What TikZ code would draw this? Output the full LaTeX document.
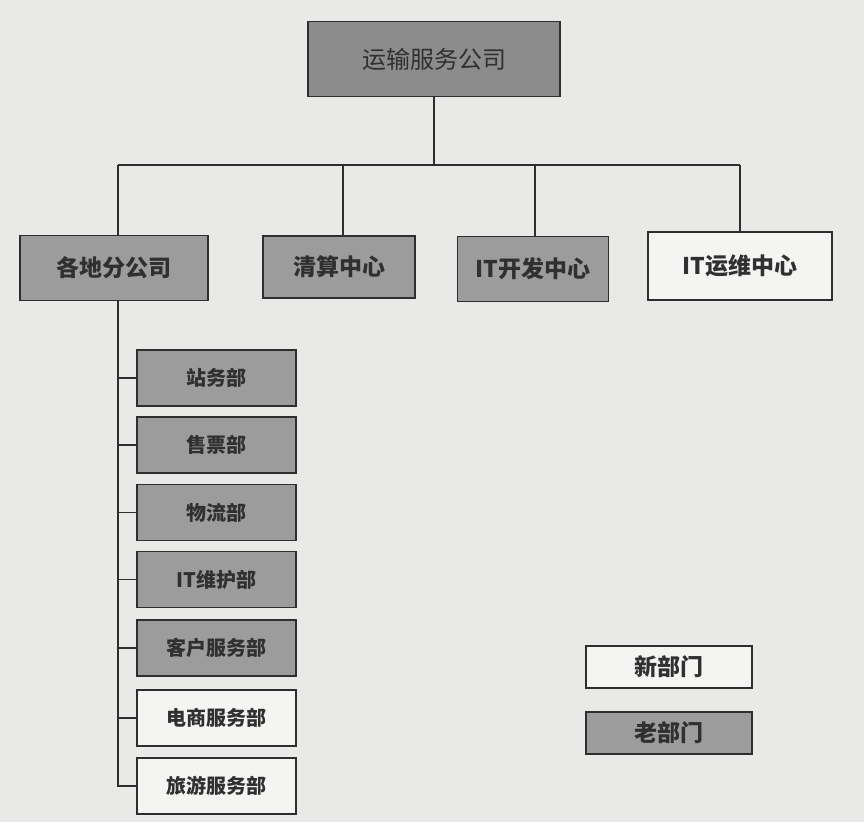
\documentclass[tikz,border=0pt]{standalone}
\usepackage{fontspec}
\setmainfont{Noto Sans CJK SC}
\definecolor{bgc}{HTML}{E9E9E7}
\definecolor{oldc}{HTML}{9C9C9C}
\definecolor{topc}{HTML}{8C8C8C}
\definecolor{newc}{HTML}{F4F4F2}
\definecolor{linec}{HTML}{2E2E2E}
\definecolor{txtc}{HTML}{303030}
\tikzset{
  unit/.style={draw=linec, line width=1.8pt, inner sep=0pt, text=txtc, anchor=center},
  oldunit/.style={unit, fill=oldc},
  topunit/.style={unit, fill=topc},
  newunit/.style={unit, fill=newc},
  toptext/.style={font=\fontsize{24}{28}\selectfont},
  bigtext/.style={font=\fontsize{23}{27}\selectfont\bfseries},
  midtext/.style={font=\fontsize{23}{27}\selectfont\bfseries},
  smalltext/.style={font=\fontsize{20}{24}\selectfont\bfseries},
  conn/.style={draw=linec, line width=1.8pt},
}
\begin{document}
\begin{tikzpicture}[x=1pt,y=-1pt]
\fill[bgc] (0,0) rectangle (864,822);
\useasboundingbox (0,0) rectangle (864,822);

% top
\node[topunit, toptext, minimum width=252pt, minimum height=75pt] (top) at (434,59) {运输服务公司};

% level 2
\node[oldunit, bigtext, minimum width=188pt, minimum height=65pt] (fen) at (114,268) {各地分公司};
\node[oldunit, bigtext, minimum width=152pt, minimum height=62pt] (qs) at (339,267) {清算中心};
\node[oldunit, bigtext, minimum width=151pt, minimum height=65pt] (kf) at (533,269) {IT开发中心};
\node[newunit, bigtext, minimum width=184pt, minimum height=68pt] (yw) at (740,266) {IT运维中心};

% bus
\coordinate (bus) at (434,165);
\coordinate (busL) at (118,165);
\coordinate (busQ) at (343,165);
\coordinate (busK) at (535,165);
\coordinate (busR) at (740,165);
\draw[conn] (top.south) -- (bus);
\draw[conn] (busL) -- (busR);
\draw[conn] (busL) -- (busL |- fen.north);
\draw[conn] (busQ) -- (busQ |- qs.north);
\draw[conn] (busK) -- (busK |- kf.north);
\draw[conn] (busR) -- (busR |- yw.north);

% level 3
\def\sw{159pt}
\def\sh{56pt}
\node[oldunit, smalltext, minimum width=\sw, minimum height=\sh] (d1) at (216.5,378) {站务部};
\node[oldunit, smalltext, minimum width=\sw, minimum height=\sh] (d2) at (216.5,445) {售票部};
\node[oldunit, smalltext, minimum width=\sw, minimum height=\sh] (d3) at (216.5,512.5) {物流部};
\node[oldunit, smalltext, minimum width=\sw, minimum height=\sh] (d4) at (216.5,579.5) {IT维护部};
\node[oldunit, smalltext, minimum width=\sw, minimum height=\sh] (d5) at (216.5,648) {客户服务部};
\node[newunit, smalltext, minimum width=\sw, minimum height=\sh] (d6) at (216.5,718) {电商服务部};
\node[newunit, smalltext, minimum width=\sw, minimum height=\sh] (d7) at (216.5,786) {旅游服务部};

\coordinate (spine) at (118,301);
\draw[conn] (spine |- fen.south) -- (spine |- d7.west) -- (d7.west);
\foreach \d in {d1,d2,d3,d4,d5,d6}{
  \draw[conn] (spine |- \d.west) -- (\d.west);
}

% legend
\node[newunit, midtext, minimum width=166pt, minimum height=42pt] (lnew) at (669,667) {新部门};
\node[oldunit, midtext, minimum width=166pt, minimum height=42pt] (lold) at (669,733) {老部门};
\end{tikzpicture}
\end{document}
